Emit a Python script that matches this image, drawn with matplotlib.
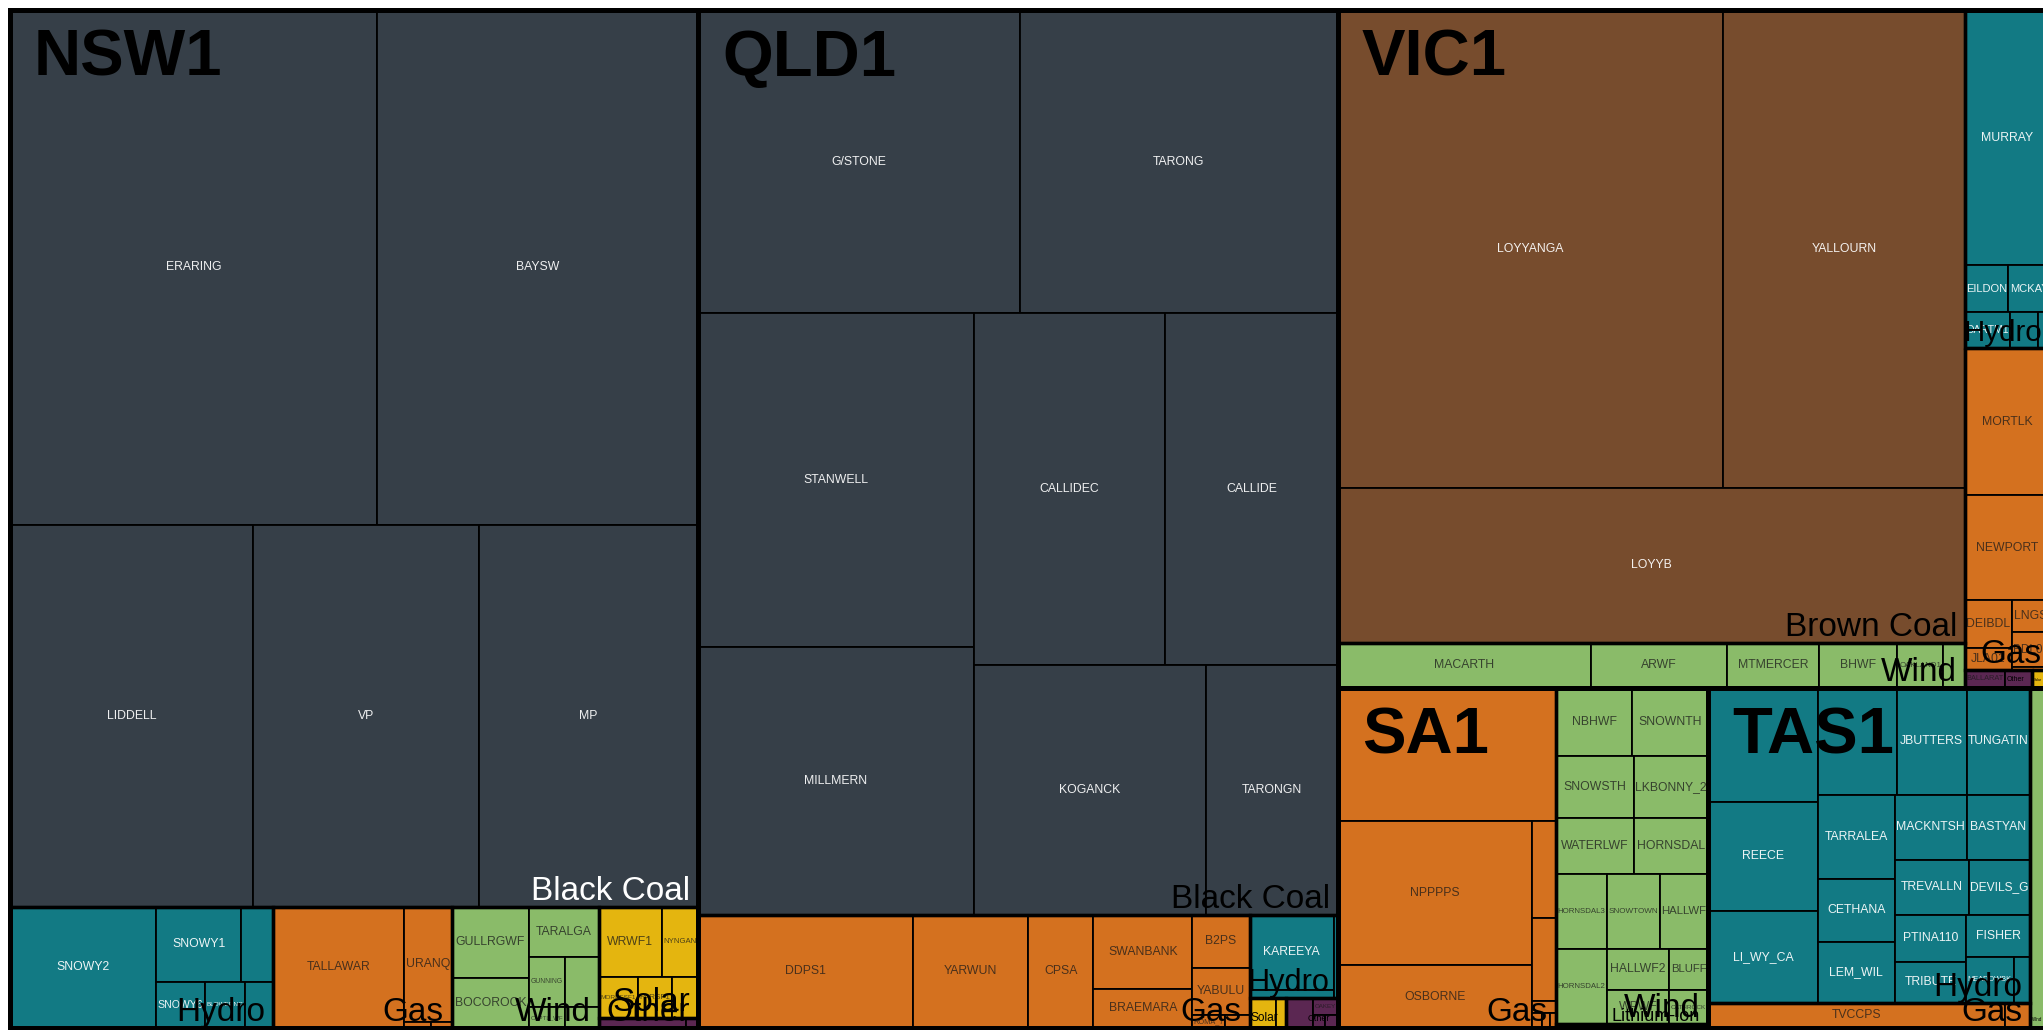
import matplotlib
matplotlib.use("Agg")
import matplotlib.pyplot as plt
from matplotlib.patches import Rectangle
from matplotlib.textpath import TextPath
from matplotlib.font_manager import FontProperties

# ---------------- data: capacity (MW) ----------------
regions = ["NSW1", "QLD1", "VIC1", "SA1", "TAS1"]

nsw_fuels = ["Black Coal", "Hydro", "Gas", "Wind", "Solar", "Other"]
nsw_black_coal = ["ERARING", "BAYSW", "LIDDELL", "VP", "MP"]
nsw_black_coal_mw = [4725, 4133, 2320, 2158, 2093]
nsw_hydro = ["SNOWY2", "SNOWY1", "SHOALHAVEN", "SNOWY6", "BLOWERNG", "GUTHEGA"]
nsw_hydro_mw = [443, 160, 60, 56, 46, 33]
nsw_gas = ["TALLAWAR", "URANQ", "APPIN", "TOWER"]
nsw_gas_mw = [396, 139, 4, 3]
nsw_wind = ["GULLRGWF", "BOCOROCK", "TARALGA", "GUNNING", "WOODLWN", "CAPTL_WF", "CULLRGWF"]
nsw_wind_mw = [137, 96, 88, 45, 43, 19, 18]
nsw_solar = ["WRWF1", "NYNGAN", "MOREESF1", "PARSF1", "GRIFSF1"]
nsw_solar_mw = [110, 63, 40, 35, 27]
nsw_other = ["BWTR1", "JACKSVL"]
nsw_other_mw = [22, 3]

qld_fuels = ["Black Coal", "Gas", "Hydro", "Solar", "Other"]
qld_black_coal = ["G/STONE", "TARONG", "STANWELL", "MILLMERN", "CALLIDEC", "CALLIDE", "KOGANCK", "TARONGN"]
qld_black_coal_mw = [2440, 2410, 2305, 1850, 1680, 1523, 1450, 825]
qld_gas = ["DDPS1", "YARWUN", "CPSA", "SWANBANK", "BRAEMARA", "B2PS", "YABULU", "ROMA_7", "BARCALDN"]
qld_gas_mw = [610, 325, 184, 183, 97, 76, 67, 11, 8]
qld_hydro = ["KAREEYA", "BARRON", "KBB"]
qld_hydro_mw = [158, 17, 8]
qld_solar = ["DAYDSF1", "HAMISF1"]
qld_solar_mw = [20, 8]
qld_other = ["ROCKHAM", "OAKEY", "SWAN_E", "MACKAYGT"]
qld_other_mw = [20, 11, 4, 4]

vic_fuels = ["Brown Coal", "Wind", "Hydro", "Gas", "Other", "Solar"]
vic_brown_coal = ["LOYYANGA", "YALLOURN", "LOYYB"]
vic_brown_coal_mw = [4600, 2893, 2430]
vic_wind = ["MACARTH", "ARWF", "MTMERCER", "BHWF", "OAKLAND1", "CHALLHWF"]
vic_wind_mw = [285, 154, 103, 89, 51, 25]
vic_hydro = ["MURRAY", "EILDON", "MCKAY", "DARTM1", "WKIEWA1", "WKIEWA2"]
vic_hydro_mw = [543, 51, 49, 41, 25, 11]
vic_gas = ["MORTLK", "NEWPORT", "DEIBDL", "JLA01", "LNGS", "BDL01", "SOMERTN"]
vic_gas_mw = [313, 223, 56, 26, 31, 33, 3]
vic_other = ["BALLARAT", "GANNBG1"]
vic_other_mw = [18, 12]
vic_solar = ["NUMURSF1"]
vic_solar_mw = [8]

sa_fuels = ["Gas", "Wind", "Lithium-ion"]
sa_gas = ["TORRB", "NPPPPS", "OSBORNE", "PPCCGT", "DRYCGT", "LADBROK", "SNUG1", "ANGAST1", "POR01"]
sa_gas_mw = [725, 700, 305, 58, 50, 7, 4, 3, 2]
sa_wind = ["NBHWF", "SNOWNTH", "SNOWSTH", "LKBONNY_2", "WATERLWF", "HORNSDAL", "HORNSDAL3",
           "HORNSDAL2", "SNOWTOWN", "HALLWF", "HALLWF2", "WPWF", "BLUFF", "CATHROCK"]
sa_wind_mw = [130, 128, 121, 115, 109, 104, 96, 96, 100, 90, 64, 53, 40, 33]
sa_battery = ["HPRG1", "DALNTH1"]
sa_battery_mw = [9, 6]

tas_fuels = ["Hydro", "Gas", "Wind"]
tas_hydro = ["GORDON", "REECE", "LI_WY_CA", "POAT220", "JBUTTERS", "TUNGATIN", "TARRALEA", "CETHANA",
             "LEM_WIL", "MACKNTSH", "BASTYAN", "TREVALLN", "DEVILS_G", "PTINA110", "TRIBUTE", "FISHER",
             "MEADOWBK", "REPULSE"]
tas_hydro_mw = [314, 300, 253, 211, 187, 169, 162, 121, 118, 117, 103, 102, 84, 84, 73, 67, 55, 19]
tas_gas = ["TVCCPS", "BBTHREE"]
tas_gas_mw = [186, 16]
tas_wind = ["MUSSELR1"]
tas_wind_mw = [170]

region_fuels = {"NSW1": nsw_fuels, "QLD1": qld_fuels, "VIC1": vic_fuels, "SA1": sa_fuels, "TAS1": tas_fuels}
units = {
    ("NSW1", "Black Coal"): (nsw_black_coal, nsw_black_coal_mw),
    ("NSW1", "Hydro"): (nsw_hydro, nsw_hydro_mw),
    ("NSW1", "Gas"): (nsw_gas, nsw_gas_mw),
    ("NSW1", "Wind"): (nsw_wind, nsw_wind_mw),
    ("NSW1", "Solar"): (nsw_solar, nsw_solar_mw),
    ("NSW1", "Other"): (nsw_other, nsw_other_mw),
    ("QLD1", "Black Coal"): (qld_black_coal, qld_black_coal_mw),
    ("QLD1", "Gas"): (qld_gas, qld_gas_mw),
    ("QLD1", "Hydro"): (qld_hydro, qld_hydro_mw),
    ("QLD1", "Solar"): (qld_solar, qld_solar_mw),
    ("QLD1", "Other"): (qld_other, qld_other_mw),
    ("VIC1", "Brown Coal"): (vic_brown_coal, vic_brown_coal_mw),
    ("VIC1", "Wind"): (vic_wind, vic_wind_mw),
    ("VIC1", "Hydro"): (vic_hydro, vic_hydro_mw),
    ("VIC1", "Gas"): (vic_gas, vic_gas_mw),
    ("VIC1", "Other"): (vic_other, vic_other_mw),
    ("VIC1", "Solar"): (vic_solar, vic_solar_mw),
    ("SA1", "Gas"): (sa_gas, sa_gas_mw),
    ("SA1", "Wind"): (sa_wind, sa_wind_mw),
    ("SA1", "Lithium-ion"): (sa_battery, sa_battery_mw),
    ("TAS1", "Hydro"): (tas_hydro, tas_hydro_mw),
    ("TAS1", "Gas"): (tas_gas, tas_gas_mw),
    ("TAS1", "Wind"): (tas_wind, tas_wind_mw),
}

# ---------------- layout recipe (strip order / orientation, no coordinates) ----------------
region_layout = ["v1", "v1", "h1", "v1", "v1"]
fuel_layout = {
    "NSW1": ["h1", "v1", "v1", "v1", "h1", "h1"],
    "QLD1": ["h1", "v1", "h1", "v1", "v1"],
    "VIC1": ["v2", "h1", "h1", "v1", "v1"],
    "SA1": ["v1", "h1", "h1"],
    "TAS1": ["v2", "v1"],
}
unit_layout = {
    ("NSW1", "Black Coal"): ["h2", "v1", "v1", "v1"],
    ("NSW1", "Hydro"): ["v1", "h2", "v1", "v1", "v1"],
    ("NSW1", "Gas"): ["v1", "h1", "v1", "v1"],
    ("NSW1", "Wind"): ["v2", "h1", "h2", "v1", "v1"],
    ("NSW1", "Solar"): ["h2", "v1", "v1", "v1"],
    ("NSW1", "Other"): ["v1", "v1"],
    ("QLD1", "Black Coal"): ["h2", "v2", "h2", "v1", "v1"],
    ("QLD1", "Gas"): ["v1", "v1", "v1", "v2", "h1", "h1", "v1", "v1"],
    ("QLD1", "Hydro"): ["v2", "v1"],
    ("QLD1", "Solar"): ["v1", "v1"],
    ("QLD1", "Other"): ["v1", "h1", "v1", "v1"],
    ("VIC1", "Brown Coal"): ["h2", "h1"],
    ("VIC1", "Wind"): ["v1"] * 6,
    ("VIC1", "Hydro"): ["h1", "h2", "h3"],
    ("VIC1", "Gas"): ["h1", "h1", "v2", "v3"],
    ("VIC1", "Other"): ["v1", "v1"],
    ("VIC1", "Solar"): ["v1"],
    ("SA1", "Gas"): ["h1", "v2", "h1", "h1", "h1", "v1", "v1", "v1"],
    ("SA1", "Wind"): ["h2", "h2", "h2", "v2", "h2", "v2", "v2"],
    ("SA1", "Lithium-ion"): ["v1", "v1"],
    ("TAS1", "Hydro"): ["v3", "h3", "v3", "h2", "h2", "v2", "h1", "v1", "v1"],
    ("TAS1", "Gas"): ["v1", "v1"],
    ("TAS1", "Wind"): ["v1"],
}

# ---------------- styles ----------------
fuel_colors = {
    "Black Coal": "#363f48", "Brown Coal": "#774c2d", "Hydro": "#127a84",
    "Gas": "#d4711f", "Wind": "#8abb69", "Solar": "#e4b50f",
    "Other": "#5b2752", "Lithium-ion": "#8d82ae",
}
dark_fuels = {"Black Coal", "Brown Coal", "Hydro"}
fuel_label_white = {("NSW1", "Black Coal")}
fuel_label_cap = {("VIC1", "Other"): 5.0, ("QLD1", "Other"): 6.5, ("SA1", "Lithium-ion"): 13.0}
FONT = "Liberation Sans"
DPI = 100
PX_PER_PT = DPI / 72.0


def slice_rect(values, specs, x0, y0, x1, y1):
    out = []
    i = 0
    n_all = len(values)
    for spec in specs:
        o, n = spec[0], int(spec[1:])
        part = values[i:i + n]
        rest = float(sum(values[i:]))
        s = float(sum(part))
        last = (i + n == n_all)
        if o == "h":
            yb = y1 if last else y0 + (y1 - y0) * s / rest
            xs = x0
            for v in part:
                xe = xs + (x1 - x0) * v / s
                out.append((xs, y0, xe, yb))
                xs = xe
            y0 = yb
        else:
            xb = x1 if last else x0 + (x1 - x0) * s / rest
            ys = y0
            for v in part:
                ye = ys + (y1 - y0) * v / s
                out.append((x0, ys, xb, ye))
                ys = ye
            x0 = xb
        i += n
    return out


fp_reg = FontProperties(family=FONT)
_wcache = {}


def text_w(s):
    if s not in _wcache:
        _wcache[s] = TextPath((0, 0), s, size=1, prop=fp_reg).get_extents().width
    return _wcache[s]


fig = plt.figure(figsize=(20.43, 10.30), dpi=DPI)
fig.patch.set_facecolor("white")
ax = fig.add_axes([0, 0, 1, 1])
ax.set_xlim(0, 2043)
ax.set_ylim(1030, 0)
ax.axis("off")

X0, Y0, X1, Y1 = 10, 10, 2050, 1028

region_tot = [sum(sum(units[(r, f)][1]) for f in region_fuels[r]) for r in regions]
reg_rects = slice_rect(region_tot, region_layout, X0, Y0, X1, Y1)

unit_labels = []
fuel_boxes = []
for r, rr in zip(regions, reg_rects):
    fuels = region_fuels[r]
    ftot = [sum(units[(r, f)][1]) for f in fuels]
    frects = slice_rect(ftot, fuel_layout[r], *rr)
    for f, fr in zip(fuels, frects):
        names, vals = units[(r, f)]
        urects = slice_rect(vals, unit_layout[(r, f)], *fr)
        for nm, (a, b, c, d) in zip(names, urects):
            ax.add_patch(Rectangle((a, b), c - a, d - b, facecolor=fuel_colors[f],
                                   edgecolor="black", linewidth=1.3, zorder=1))
            unit_labels.append((nm, f, r, a, b, c, d))
        fuel_boxes.append((r, f, fr))

for r, f, (a, b, c, d) in fuel_boxes:
    ax.add_patch(Rectangle((a, b), c - a, d - b, facecolor="none",
                           edgecolor="black", linewidth=2.4, zorder=2))
for (a, b, c, d) in reg_rects:
    ax.add_patch(Rectangle((a, b), c - a, d - b, facecolor="none",
                           edgecolor="black", linewidth=3.6, zorder=3))

# region labels
renderer = fig.canvas.get_renderer()
reg_boxes = []
for r, (a, b, c, d) in zip(regions, reg_rects):
    t = ax.text(a + 24, b + 19, r, fontsize=47, fontweight="bold", family=FONT,
                ha="left", va="top", color="black", zorder=8)
    reg_boxes.append(t.get_window_extent(renderer=renderer))

# station labels
for nm, f, r, a, b, c, d in unit_labels:
    w, h = c - a, d - b
    fs = min(8.8, (w - 4) / (text_w(nm) * PX_PER_PT))
    if fs < 4.2 or h < fs * PX_PER_PT * 0.9:
        continue
    cx, cy = (a + c) / 2, (b + d) / 2
    px, py = ax.transData.transform((cx, cy))
    if any(bb.contains(px, py) for bb in reg_boxes):
        continue
    if f in dark_fuels:
        col, al = "white", 0.92
    else:
        col, al = "#1a1a1a", 0.75
    ax.text(cx, cy, nm, fontsize=fs, family=FONT, ha="center", va="center",
            color=col, alpha=al, zorder=5, clip_on=True)

# fuel labels
for r, f, (a, b, c, d) in fuel_boxes:
    w = c - a
    fs = min(24.0, (w - 10) / (text_w(f) * PX_PER_PT))
    fs = min(fs, fuel_label_cap.get((r, f), 99))
    if fs < 2.5:
        continue
    col = "white" if (r, f) in fuel_label_white else "black"
    ax.text(c - 8, d - 7, f, fontsize=fs, family=FONT, ha="right", va="baseline",
            color=col, zorder=6)

fig.savefig("out.png", dpi=DPI, facecolor="white")
